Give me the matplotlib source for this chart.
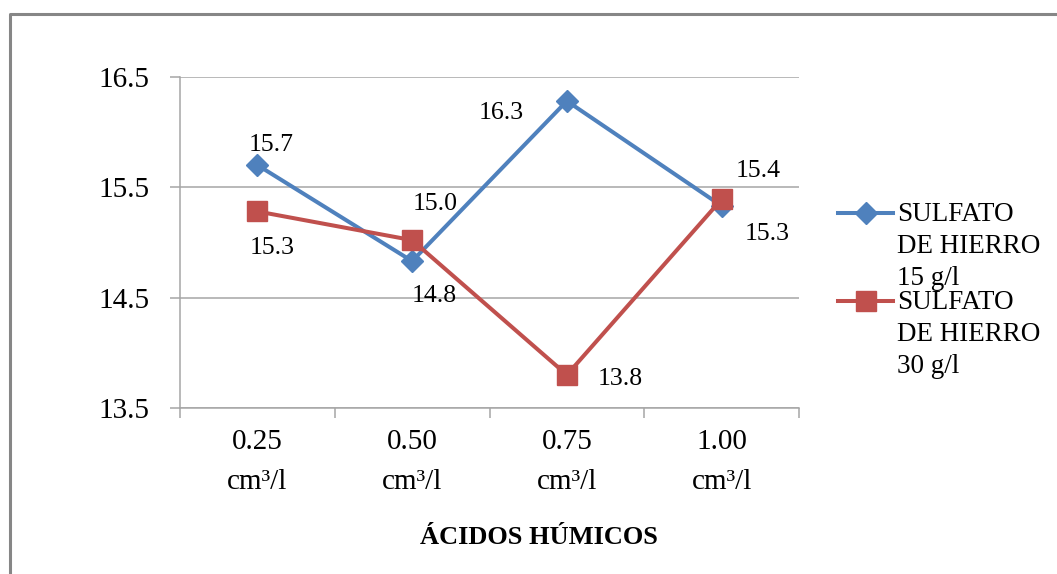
import matplotlib
matplotlib.use("Agg")
import matplotlib.pyplot as plt
from matplotlib.lines import Line2D
import numpy as np

categories = ["0.25\ncm³/l", "0.50\ncm³/l", "0.75\ncm³/l", "1.00\ncm³/l"]
serie_15 = [15.70, 14.83, 16.28, 15.33]
serie_30 = [15.28, 15.02, 13.80, 15.39]
labels_15 = ["15.7", "14.8", "16.3", "15.3"]
labels_30 = ["15.3", "15.0", "13.8", "15.4"]
name_15 = "SULFATO\nDE HIERRO\n15 g/l"
name_30 = "SULFATO\nDE HIERRO\n30 g/l"
x_title = "ÁCIDOS HÚMICOS"
yticks = [13.5, 14.5, 15.5, 16.5]

BLUE = "#4F81BD"
RED = "#C0504D"
GRID = "#A6A6A6"

plt.rcParams['font.family'] = ['Liberation Serif', 'DejaVu Serif']

W, H = 1057, 574
fig = plt.figure(figsize=(W / 100, H / 100), dpi=100)

def fx(px):
    return px / W

def fy(py):
    return 1 - py / H

# outer chart border (top and left visible)
fig.add_artist(Line2D([fx(10), fx(10), 1.0], [0.0, fy(14), fy(14)],
                      transform=fig.transFigure, color="#868686", lw=2.2))

ax = fig.add_axes([fx(180), fy(408), fx(799) - fx(180), fy(76.7) - fy(408)])
xs = np.arange(len(categories))

LW = 2.9
MS_D = 11.5
MS_S = 15
ax.plot(xs, serie_15, color=BLUE, lw=LW, marker="D", markersize=MS_D,
        markerfacecolor=BLUE, markeredgecolor=BLUE, zorder=3)
ax.plot(xs, serie_30, color=RED, lw=LW, marker="s", markersize=MS_S,
        markerfacecolor=RED, markeredgecolor=RED, zorder=4)

off_15 = [(14, 20), (22, -35), (-66, -12), (46, -28)]
off_30 = [(15, -37), (23, 36), (53, -4), (37, 28)]
for i in range(len(categories)):
    ax.annotate(labels_15[i], (xs[i], serie_15[i]), xytext=off_15[i],
                textcoords="offset pixels", ha="center", va="center",
                fontsize=18.5, color="black", zorder=5)
    ax.annotate(labels_30[i], (xs[i], serie_30[i]), xytext=off_30[i],
                textcoords="offset pixels", ha="center", va="center",
                fontsize=18.5, color="black", zorder=5)

ax.set_xlim(-0.5, len(categories) - 0.5)
ax.set_ylim(13.5, 16.5)
ax.set_yticks(yticks)
ax.set_yticklabels([f"{v:.1f}" for v in yticks])
ax.set_xticks(xs)
ax.set_xticklabels(categories, linespacing=1.72)
ax.set_xticks(np.arange(len(categories) + 1) - 0.5, minor=True)

ax.grid(axis="y", color=GRID, lw=1.1)
ax.set_axisbelow(True)
for s in ["top", "right"]:
    ax.spines[s].set_visible(False)
for s in ["left", "bottom"]:
    ax.spines[s].set_color(GRID)
    ax.spines[s].set_linewidth(1.1)

ax.tick_params(axis="y", which="major", length=7, width=1.1, color=GRID,
               labelsize=21, pad=15)
ax.tick_params(axis="x", which="major", length=0, labelsize=21, pad=15)
ax.tick_params(axis="x", which="minor", length=7, width=1.1, color=GRID)

fig.text(fx(539), fy(538), x_title, ha="center", va="center",
         fontsize=19, fontweight="bold")

# legend drawn manually
for yy, col, mk, ms, name in [(213, BLUE, "D", MS_D, name_15),
                              (301, RED, "s", MS_S, name_30)]:
    fig.add_artist(Line2D([fx(838), fx(893)], [fy(yy), fy(yy)],
                          transform=fig.transFigure, color=col, lw=LW))
    fig.add_artist(Line2D([fx(866)], [fy(yy)], transform=fig.transFigure,
                          color=col, marker=mk, markersize=ms, lw=0))
    fig.text(fx(897), fy(yy - 11), name, ha="left", va="top",
             fontsize=19.5, linespacing=1.36)

fig.savefig("out.png", dpi=100)
